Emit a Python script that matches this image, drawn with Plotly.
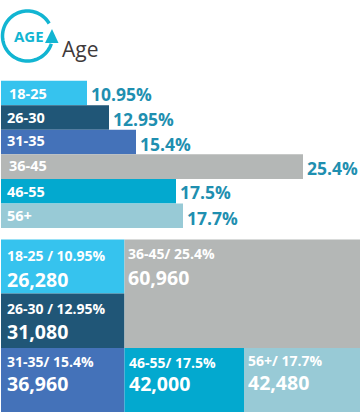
import math
import plotly.graph_objects as go

W, H = 360, 412
FONT = "Open Sans"

# ---- data ----
age_groups = ["18-25", "26-30", "31-35", "36-45", "46-55", "56+"]
share_labels = ["10.95%", "12.95%", "15.4%", "25.4%", "17.5%", "17.7%"]
bar_lengths = [86, 108, 135, 302, 175, 182]   # lengths as drawn in the picture
counts = ["26,280", "31,080", "36,960", "60,960", "42,000", "42,480"]
tile_titles = ["18-25 / 10.95%", "26-30 / 12.95%", "31-35/ 15.4%",
               "36-45/ 25.4%", "46-55/ 17.5%", "56+/ 17.7%"]
colors = ["#36c3ee", "#205677", "#4472b9", "#b4b7b6", "#03a9cf", "#98cad6"]

# ---- layout of the tiles (left, right, top, bottom on the tile axes) ----
tile_left = [1, 1, 1, 124.5, 124.5, 244]
tile_right = [124.5, 124.5, 124.5, 360, 244, 360]
tile_top = [239.5, 293.5, 348, 239.5, 348, 348]
tile_bottom = [293.5, 348, 412, 348, 412, 412]
title_x = [5, 5, 5, 126, 127, 246]
title_y = [256, 308, 361.5, 254, 362, 360.5]
count_y = [279, 331, 383, 277, 383, 382]
cat_x = [7, 5, 5, 7, 5, 5]
cat_y_shift = [0, 0, -2, -1, 0, 0]
pct_y_shift = [1, 1, 2, 1, 1, 2]

fig = go.Figure()

fig.add_trace(go.Bar(
    y=age_groups, x=bar_lengths, base=1, orientation="h",
    marker=dict(color=colors, line=dict(width=0)),
    width=1, xaxis="x", yaxis="y", hoverinfo="skip", showlegend=False,
))

fig.add_trace(go.Bar(
    x=[(l + r) / 2 for l, r in zip(tile_left, tile_right)],
    width=[r - l for l, r in zip(tile_left, tile_right)],
    base=tile_top,
    y=[b - t for t, b in zip(tile_top, tile_bottom)],
    marker=dict(color=colors, line=dict(width=0)),
    xaxis="x2", yaxis="y2", hoverinfo="skip", showlegend=False,
))

ann = []
for g, lab, length, cx, dy, pdy in zip(age_groups, share_labels, bar_lengths, cat_x, cat_y_shift, pct_y_shift):
    ann.append(dict(x=cx, y=g, xref="x", yref="y", text=f"<b>{g}</b>", showarrow=False,
                    xanchor="left", yanchor="middle", yshift=-dy,
                    font=dict(family=FONT, size=14.5, color="#ffffff")))
    ann.append(dict(x=length + 1, y=g, xref="x", yref="y", text=f"<b>{lab}</b>", showarrow=False,
                    xanchor="left", yanchor="middle", xshift=2, yshift=-pdy,
                    font=dict(family=FONT, size=17.5, color="#1f8fb0")))

for t, c, x, ty, cy in zip(tile_titles, counts, title_x, title_y, count_y):
    ann.append(dict(x=x, y=ty, xref="x2", yref="y2", text=f"<b>{t}</b>", showarrow=False,
                    xanchor="left", yanchor="middle",
                    font=dict(family=FONT, size=14, color="#ffffff")))
    ann.append(dict(x=x, y=cy, xref="x2", yref="y2", text=f"<b>{c}</b>", showarrow=False,
                    xanchor="left", yanchor="middle",
                    font=dict(family=FONT, size=19.5, color="#ffffff")))


def px(x):
    return x / W


def py(y):
    return 1 - y / H


# icon: ring with an arrow head, in paper coordinates
cx0, cy0, r = 27.5, 36, 25
pts = []
for deg in range(-30, -344, -4):
    a = math.radians(deg)
    pts.append((cx0 + r * math.cos(a), cy0 + r * math.sin(a)))
path = "M " + " L ".join(f"{px(x):.5f},{py(y):.5f}" for x, y in pts)
tri = [(52, 29), (45, 43), (58.5, 43)]
tri_path = "M " + " L ".join(f"{px(x):.5f},{py(y):.5f}" for x, y in tri) + " Z"
shapes = [
    dict(type="path", xref="paper", yref="paper", path=path,
         line=dict(color="#12b5d2", width=3.5), fillcolor="rgba(0,0,0,0)"),
    dict(type="path", xref="paper", yref="paper", path=tri_path,
         line=dict(width=0), fillcolor="#12b5d2"),
]
ann.append(dict(x=px(12), y=py(36), xref="paper", yref="paper", text="<b>AGE</b>", showarrow=False,
                xanchor="left", yanchor="middle",
                font=dict(family=FONT, size=15, color="#12b5d2")))
ann.append(dict(x=px(60), y=py(49), xref="paper", yref="paper", text="Age", showarrow=False,
                xanchor="left", yanchor="middle",
                font=dict(family=FONT, size=21, color="#3f3a3b")))

hidden = dict(visible=False, fixedrange=True)
fig.update_layout(
    width=W, height=H, margin=dict(l=0, r=0, t=0, b=0),
    paper_bgcolor="#ffffff", plot_bgcolor="#ffffff",
    barmode="overlay", showlegend=False, shapes=shapes, annotations=ann,
    xaxis=dict(range=[0, W], domain=[0, 1], anchor="y", **hidden),
    yaxis=dict(type="category", categoryorder="array", categoryarray=age_groups,
               autorange="reversed", domain=[1 - 228 / H, 1 - 78 / H], anchor="x", **hidden),
    xaxis2=dict(range=[0, W], domain=[0, 1], anchor="y2", **hidden),
    yaxis2=dict(range=[412, 239], domain=[0, 1 - 239 / H], anchor="x2", **hidden),
)
fig.write_html("out.html", config=dict(displayModeBar=False),
               post_script="document.body.style.margin='0';document.documentElement.style.overflow='hidden';")
